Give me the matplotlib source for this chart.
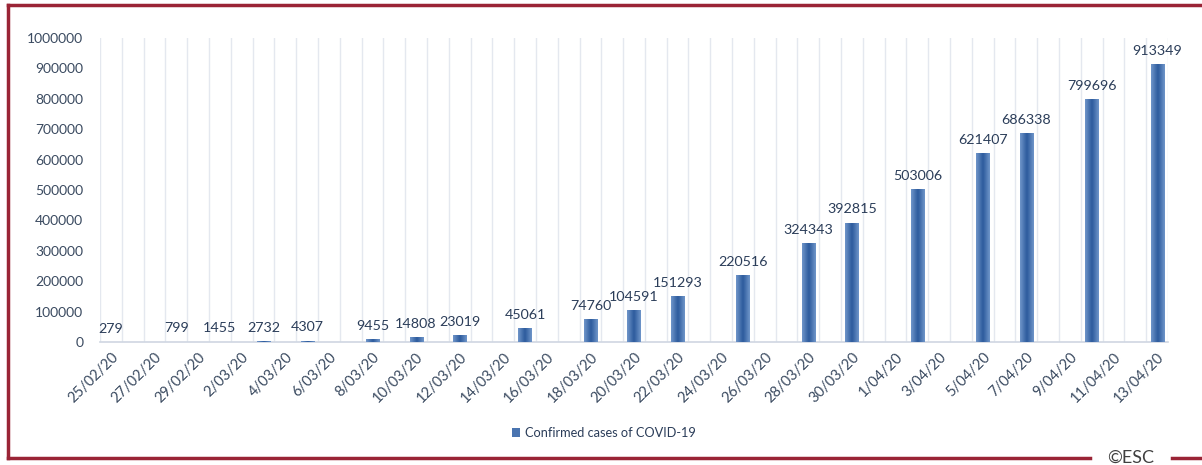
import matplotlib
matplotlib.use("Agg")
import matplotlib.pyplot as plt
import matplotlib.dates as mdates
from matplotlib.lines import Line2D
from matplotlib.patches import Patch
import numpy as np
import pandas as pd

plt.rcParams['font.family'] = ['Lato', 'DejaVu Sans']

bar_dates = ["25/02/20", "28/02/20", "1/03/20", "3/03/20", "5/03/20", "8/03/20",
             "10/03/20", "12/03/20", "15/03/20", "18/03/20", "20/03/20", "22/03/20",
             "25/03/20", "28/03/20", "30/03/20", "2/04/20", "5/04/20", "7/04/20",
             "10/04/20", "13/04/20"]
cases = [279, 799, 1455, 2732, 4307, 9455, 14808, 23019, 45061, 74760, 104591,
         151293, 220516, 324343, 392815, 503006, 621407, 686338, 799696, 913349]
tick_labels = ["25/02/20", "27/02/20", "29/02/20", "2/03/20", "4/03/20", "6/03/20",
               "8/03/20", "10/03/20", "12/03/20", "14/03/20", "16/03/20", "18/03/20",
               "20/03/20", "22/03/20", "24/03/20", "26/03/20", "28/03/20", "30/03/20",
               "1/04/20", "3/04/20", "5/04/20", "7/04/20", "9/04/20", "11/04/20",
               "13/04/20"]
y_ticks = [0, 100000, 200000, 300000, 400000, 500000, 600000, 700000, 800000, 900000, 1000000]
series_name = "Confirmed cases of COVID-19"

x_bars = mdates.date2num(pd.to_datetime(bar_dates, format="%d/%m/%y"))
x_ticks = mdates.date2num(pd.to_datetime(tick_labels, format="%d/%m/%y"))

fig = plt.figure(figsize=(12.02, 4.65), dpi=100)
ax = fig.add_axes([100/1202, 1-342/465, (1168-100)/1202, (342-38)/465])

bar_color = "#3465A6"
label_color = "#2B3D59"
tick_color = "#3A4A60"

bars = ax.bar(x_bars, cases, width=0.6, color=bar_color, zorder=3)

# gradient fill clipped to each bar
cmap = matplotlib.colors.LinearSegmentedColormap.from_list(
    "g", ["#7096CA", "#2C5A9C", "#7096CA"])
grad = np.linspace(0, 1, 64).reshape(1, -1)
for b in bars:
    x0, w, h = b.get_x(), b.get_width(), b.get_height()
    im = ax.imshow(grad, cmap=cmap, aspect="auto", extent=[x0, x0 + w, 0, h],
                   zorder=4, interpolation="bicubic")
    im.set_clip_path(b)

for xb, v in zip(x_bars, cases):
    ax.text(xb, v + 24000, str(v), ha="center", va="bottom", fontsize=10.3,
            color=label_color, zorder=5)

start = x_ticks[0] - 0.5
end = x_ticks[-1] + 0.5
ax.set_xlim(start, end)
ax.set_ylim(0, 1000000)

# vertical gridlines at day boundaries
ax.set_xticks(np.arange(start, end + 0.01, 1.0), minor=True)
ax.grid(True, axis="x", which="minor", color="#E4E8EF", linewidth=1.0, zorder=0)
ax.set_xticks(x_ticks)
ax.set_xticklabels(tick_labels, rotation=45, ha="right", rotation_mode="anchor",
                   fontsize=10.5, color=tick_color)
ax.tick_params(axis="x", which="both", length=0, pad=6)

ax.set_yticks(y_ticks)
ax.set_yticklabels([str(t) for t in y_ticks], fontsize=10, color=tick_color)
ax.tick_params(axis="y", length=0, pad=12)

for s in ["top", "right", "left"]:
    ax.spines[s].set_visible(False)
ax.spines["bottom"].set_color("#CFD6E2")
ax.spines["bottom"].set_linewidth(1.2)

handle = Patch(facecolor="#4A74B0", edgecolor="none")
fig.legend([handle], [series_name], loc="center", bbox_to_anchor=(604/1202, 1-433/465),
           frameon=False, fontsize=9.2, handlelength=0.6, handleheight=0.6,
           handletextpad=0.4, labelcolor=label_color)

# dark red frame
frame_color = "#9A2436"
fx0 = 8/1202
fy_top = 1 - 5/465
fy_bot = 1 - 458/465
fig.add_artist(Line2D([fx0, 1.0], [fy_top, fy_top], color=frame_color, lw=2.5,
                      transform=fig.transFigure))
fig.add_artist(Line2D([fx0, fx0], [fy_bot, fy_top], color=frame_color, lw=2.5,
                      transform=fig.transFigure))
fig.add_artist(Line2D([fx0, 1090/1202], [fy_bot, fy_bot], color=frame_color, lw=2.5,
                      transform=fig.transFigure))
fig.add_artist(Line2D([1172/1202, 1.0], [fy_bot, fy_bot], color=frame_color, lw=2.5,
                      transform=fig.transFigure))
fig.text(1131/1202, fy_bot, "©ESC", ha="center", va="center", fontsize=13,
         color="#404040")

fig.savefig("out.png", dpi=100)
